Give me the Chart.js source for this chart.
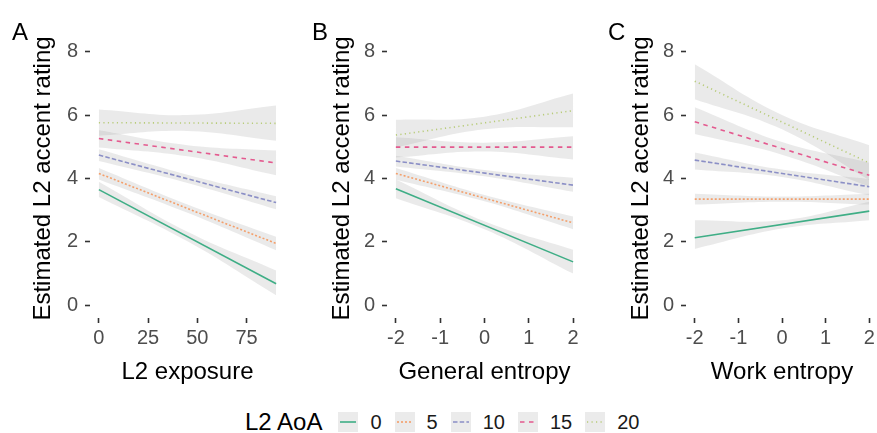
<!DOCTYPE html>
<html>
<head>
<meta charset="utf-8">
<script src="https://cdn.jsdelivr.net/npm/chart.js@4"></script>
<style>
  html, body { margin: 0; padding: 0; background: #fff; overflow: hidden; }
  body { width: 877px; height: 433px; position: relative; font-family: 'Liberation Sans', Arial, sans-serif; }
  canvas { position: absolute; top: 0; }
  .tag { position: absolute; top: 20px; font-size: 24px; line-height: 24px; color: #000; }
  #legend { position: absolute; left: 245px; top: 410px; height: 24px; display: flex; align-items: center; }
  #legend .ttl { font-size: 24px; line-height: 24px; margin-right: 16px; color: #000; }
  #legend .lab { font-size: 20px; line-height: 24px; margin-left: 12px; margin-right: 13px; color: #1a1a1a; }
  #legend canvas { position: static; }
</style>
</head>
<body>
<canvas id="panelA" width="290" height="393" style="left:0px"></canvas>
<canvas id="panelB" width="285" height="393" style="left:297px"></canvas>
<canvas id="panelC" width="282" height="393" style="left:596px"></canvas>
<div class="tag" style="left:12px">A</div>
<div class="tag" style="left:312px">B</div>
<div class="tag" style="left:608px">C</div>
<div id="legend"></div>
<script>
(function() {
// L2 AoA groups, one line + CI band each
const aoaLevels = ['0', '5', '10', '15', '20'];
const lineColors = ['#3fae86', '#f4a06c', '#8b8fc6', '#e45a8f', '#b8cc7a'];
const lineDashes = [[], [2, 2], [4.5, 2.2], [4.5, 4.5], [1.2, 3.3]];

const yTicks = [0, 2, 4, 6, 8];

// Panel A: L2 exposure
const expTicks = [0, 25, 50, 75];
const expBandX = [0, 45, 90];
const expFitStart = [3.65, 4.16, 4.74, 5.26, 5.76];
const expFitEnd = [0.68, 1.95, 3.24, 4.49, 5.74];
const expBandLow = [[3.42, 2.02, 0.32], [3.97, 2.92, 1.74], [4.55, 3.86, 3.03], [4.98, 4.70, 4.10], [5.35, 5.50, 5.19]];
const expBandHigh = [[3.90, 2.32, 1.10], [4.33, 3.18, 2.16], [4.92, 4.12, 3.44], [5.52, 5.05, 4.88], [6.18, 6.00, 6.30]];

// Panel B: General entropy
const entTicks = [-2, -1, 0, 1, 2];
const entBandX = [-2, 0, 2];
const genFitStart = [3.68, 4.16, 4.55, 4.99, 5.37];
const genFitEnd = [1.37, 2.60, 3.79, 4.99, 6.14];
const genBandLow = [[3.38, 2.40, 1.00], [3.96, 3.28, 2.40], [4.38, 4.07, 3.58], [4.66, 4.85, 4.60], [4.98, 5.55, 5.62]];
const genBandHigh = [[3.97, 2.65, 1.75], [4.33, 3.48, 2.80], [4.72, 4.27, 4.02], [5.30, 5.13, 5.33], [5.85, 5.95, 6.68]];

// Panel C: Work entropy
const workFitStart = [2.13, 3.35, 4.58, 5.79, 7.07];
const workFitEnd = [2.97, 3.35, 3.74, 4.10, 4.49];
const workBandLow = [[1.78, 2.42, 2.68], [3.18, 3.27, 3.18], [4.28, 4.05, 3.47], [5.40, 4.75, 3.75], [6.50, 5.55, 3.95]];
const workBandHigh = [[2.68, 2.68, 3.27], [3.52, 3.43, 3.52], [4.82, 4.28, 3.98], [6.25, 5.15, 4.50], [7.60, 6.00, 5.05]];

const fontFamily = "'Liberation Sans', Arial, sans-serif";
const bandFill = 'rgba(150, 150, 150, 0.2)';
Chart.defaults.font.family = fontFamily;

function buildDatasets(bandX, fitStart, fitEnd, bandLow, bandHigh) {
    const sets = [];
    const x0 = bandX[0];
    const x1 = bandX[bandX.length - 1];
    for (let i = 0; i < aoaLevels.length; i++) {
        sets.push({
            label: 'hi' + aoaLevels[i],
            data: bandX.map((x, j) => ({x: x, y: bandHigh[i][j]})),
            borderWidth: 0, pointRadius: 0, tension: 0.4, fill: false, order: 1
        });
        sets.push({
            label: 'lo' + aoaLevels[i],
            data: bandX.map((x, j) => ({x: x, y: bandLow[i][j]})),
            borderWidth: 0, pointRadius: 0, tension: 0.4,
            fill: '-1', backgroundColor: bandFill, order: 1
        });
    }
    for (let i = 0; i < aoaLevels.length; i++) {
        sets.push({
            label: aoaLevels[i],
            data: [{x: x0, y: fitStart[i]}, {x: x1, y: fitEnd[i]}],
            borderColor: lineColors[i],
            borderDash: lineDashes[i],
            borderWidth: 1.6, pointRadius: 0, fill: false, order: 0
        });
    }
    return sets;
}

function makePanel(id, p) {
    const tickGrid = {
        drawOnChartArea: false, drawTicks: true,
        tickLength: 5, tickWidth: 1.6, tickColor: '#333333'
    };
    return new Chart(document.getElementById(id), {
        type: 'line',
        data: {datasets: buildDatasets(p.bandX, p.fitStart, p.fitEnd, p.bandLow, p.bandHigh)},
        options: {
            responsive: false,
            animation: false,
            layout: {padding: {left: 0, right: p.padRight, top: 39, bottom: 0}},
            plugins: {legend: {display: false}, tooltip: {enabled: false}},
            scales: {
                x: {
                    type: 'linear', min: p.xMin, max: p.xMax,
                    afterBuildTicks: s => { s.ticks = p.xTicks.map(v => ({value: v})); },
                    afterFit: s => { s.height = 75; },
                    grid: tickGrid,
                    border: {display: false},
                    ticks: {font: {size: 20}, color: '#4d4d4d', padding: 3, maxRotation: 0, autoSkip: false},
                    title: {display: true, text: p.xTitle, font: {size: 24}, color: '#000', padding: {top: 0, bottom: 6}}
                },
                y: {
                    type: 'linear', min: -0.4, max: 8.4,
                    afterBuildTicks: s => { s.ticks = yTicks.map(v => ({value: v})); },
                    afterFit: s => { s.width = 90; },
                    grid: tickGrid,
                    border: {display: false},
                    ticks: {font: {size: 20}, color: '#4d4d4d', padding: 7},
                    title: {display: true, text: 'Estimated L2 accent rating', font: {size: 24}, color: '#000',
                            padding: {top: p.yTitlePad, bottom: 0}}
                }
            }
        }
    });
}

makePanel('panelA', {
    xTitle: 'L2 exposure', xTicks: expTicks, xMin: -4.5, xMax: 94.5, padRight: 5, yTitlePad: 28.6,
    bandX: expBandX, fitStart: expFitStart, fitEnd: expFitEnd, bandLow: expBandLow, bandHigh: expBandHigh
});
makePanel('panelB', {
    xTitle: 'General entropy', xTicks: entTicks, xMin: -2.2, xMax: 2.2, padRight: 0, yTitlePad: 30.6,
    bandX: entBandX, fitStart: genFitStart, fitEnd: genFitEnd, bandLow: genBandLow, bandHigh: genBandHigh
});
makePanel('panelC', {
    xTitle: 'Work entropy', xTicks: entTicks, xMin: -2.2, xMax: 2.2, padRight: 0, yTitlePad: 30.6,
    bandX: entBandX, fitStart: workFitStart, fitEnd: workFitEnd, bandLow: workBandLow, bandHigh: workBandHigh
});

// shared legend below the panels
const legend = document.getElementById('legend');
const ttl = document.createElement('span');
ttl.className = 'ttl';
ttl.textContent = 'L2 AoA';
legend.appendChild(ttl);
aoaLevels.forEach((lvl, i) => {
    const key = document.createElement('canvas');
    key.width = 20;
    key.height = 20;
    const ctx = key.getContext('2d');
    ctx.fillStyle = '#ebebeb';
    ctx.fillRect(0, 0, 20, 20);
    ctx.strokeStyle = lineColors[i];
    ctx.lineWidth = 1.6;
    ctx.setLineDash(lineDashes[i]);
    ctx.beginPath();
    ctx.moveTo(2, 10);
    ctx.lineTo(18, 10);
    ctx.stroke();
    legend.appendChild(key);
    const lab = document.createElement('span');
    lab.className = 'lab';
    lab.textContent = lvl;
    legend.appendChild(lab);
});
})();
</script>
</body>
</html>
